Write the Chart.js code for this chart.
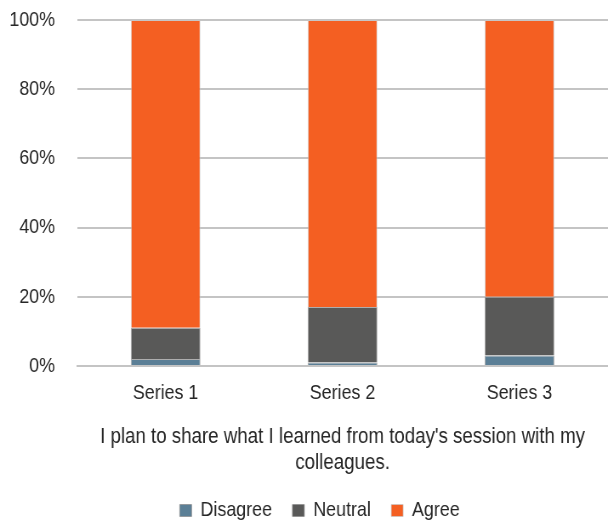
<!DOCTYPE html>
<html>
<head>
<meta charset="utf-8">
<script src="https://cdn.jsdelivr.net/npm/chart.js@4/dist/chart.umd.min.js"></script>
<style>
    html, body { margin: 0; padding: 0; background: #ffffff; overflow: hidden; }
    #page { width: 608px; height: 523px; overflow: hidden; }
    /* drawn wide, then narrowed so the text keeps its condensed look */
    #wrap { width: 715px; height: 523px; transform: scaleX(0.8503); transform-origin: 0 0; }
</style>
</head>
<body>
<div id="page"><div id="wrap"><canvas id="share-chart" width="715" height="523"></canvas></div></div>
<script>
    "use strict";

    /** Survey answers, percent of responses per group */
    var categories = ['Series 1', 'Series 2', 'Series 3'];
    var disagree = [2, 1, 3];
    var neutral = [9, 16, 17];
    var agree = [89, 83, 80];
    var yTicks = [0, 20, 40, 60, 80, 100];
    var question = ["I plan to share what I learned from today's session with my", 'colleagues.'];

    Chart.defaults.font.family = "'Liberation Sans', Arial, sans-serif";
    Chart.defaults.color = '#262626';

    /** Nudge the legend a bit to the right of the canvas centre */
    var legendShift = {
        id: 'legendShift',
        afterLayout: function(chart) {
            if (chart.legend) {
                chart.legend.left += 26;
                chart.legend.right += 26;
            }
        }
    };

    var ctx = document.getElementById('share-chart').getContext('2d');
    var shareChart = new Chart(ctx, {
        type: 'bar',
        data: {
            labels: categories,
            datasets: [{
                label: 'Disagree',
                data: disagree,
                backgroundColor: '#5b7f96',
                borderColor: 'rgba(140, 140, 140, 0.7)',
                borderWidth: 1
            }, {
                label: 'Neutral',
                data: neutral,
                backgroundColor: '#595958',
                borderColor: 'rgba(140, 140, 140, 0.7)',
                borderWidth: 1
            }, {
                label: 'Agree',
                data: agree,
                backgroundColor: '#f45f22',
                borderColor: 'rgba(200, 200, 200, 0.7)',
                borderWidth: 1
            }]
        },
        options: {
            responsive: false,
            animation: false,
            layout: { padding: { top: 0, right: 0, left: -15, bottom: -8 } },
            datasets: {
                bar: { categoryPercentage: 1, barPercentage: 0.394 }
            },
            scales: {
                x: {
                    stacked: true,
                    grid: { display: false },
                    border: { color: '#c4c4c4', width: 2 },
                    ticks: { font: { size: 21 }, padding: 7, color: '#262626' },
                    title: {
                        display: true,
                        text: question,
                        font: { size: 22, lineHeight: 1.18 },
                        color: '#262626',
                        padding: { top: 11, bottom: 0 }
                    }
                },
                y: {
                    stacked: true,
                    min: 0,
                    max: 100,
                    afterBuildTicks: function(axis) {
                        axis.ticks = yTicks.map(function(v) { return { value: v }; });
                    },
                    /** keep the label gap from also pushing the plot down */
                    afterFit: function(axis) {
                        axis.paddingTop = 20;
                        axis.paddingBottom = 0;
                    },
                    grid: { color: '#c4c4c4', lineWidth: 2, drawTicks: false },
                    border: { display: false },
                    ticks: {
                        font: { size: 21 },
                        padding: 26,
                        color: '#262626',
                        callback: function(v) { return v + '%'; }
                    }
                }
            },
            plugins: {
                legend: {
                    position: 'bottom',
                    labels: {
                        font: { size: 21 },
                        color: '#262626',
                        boxWidth: 14,
                        boxHeight: 12,
                        padding: 24
                    }
                },
                tooltip: { enabled: false }
            }
        },
        plugins: [legendShift]
    });
</script>
</body>
</html>
